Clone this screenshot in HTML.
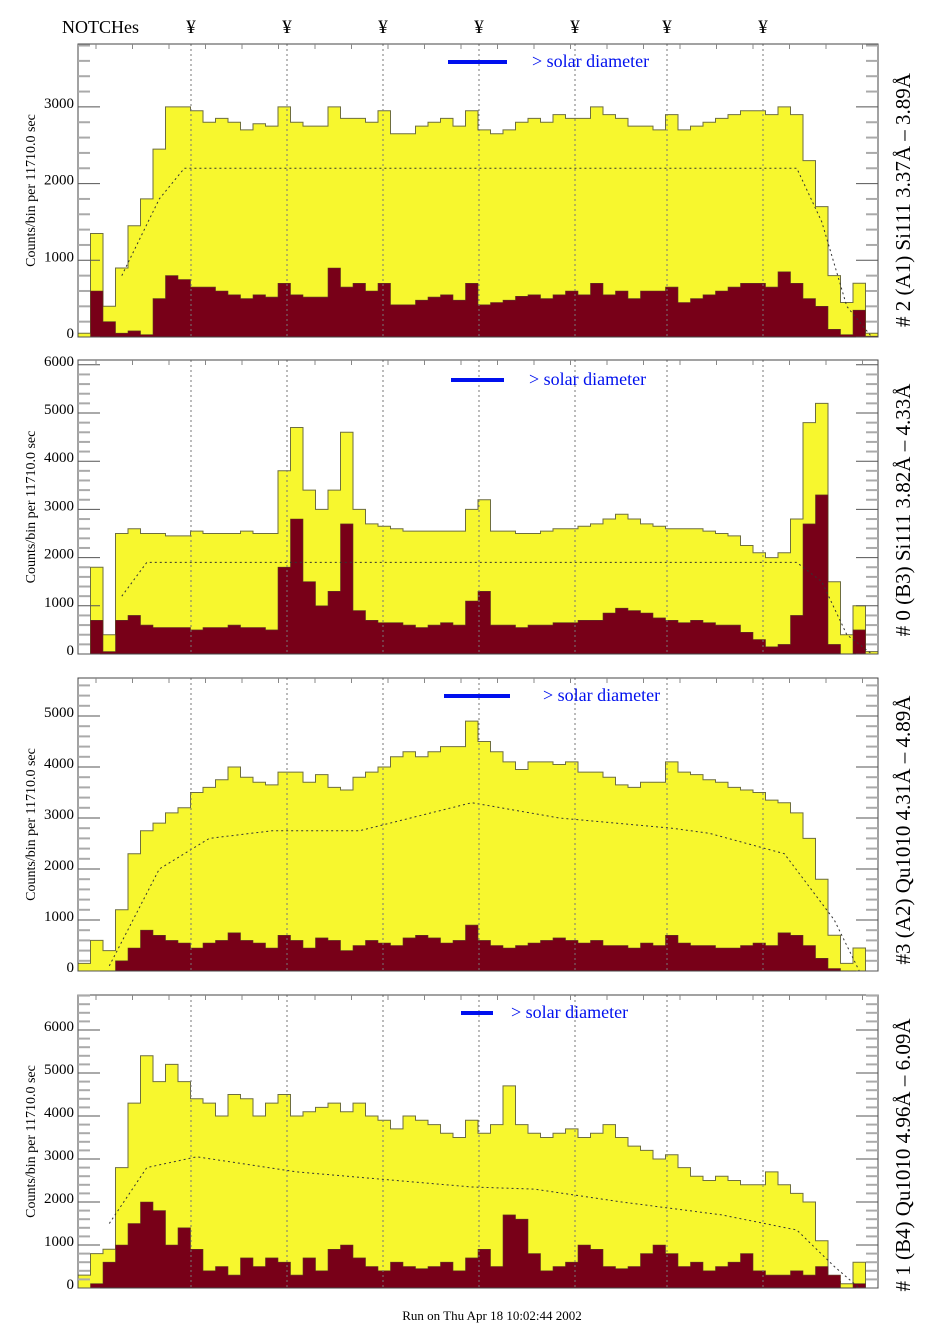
<!DOCTYPE html>
<html><head><meta charset="utf-8"><style>
html,body{margin:0;padding:0;background:#fff;}
svg{display:block;font-family:"Liberation Serif",serif;}
</style></head><body>
<svg id="chart" width="938" height="1330" viewBox="0 0 938 1330" xmlns="http://www.w3.org/2000/svg">
<text x="62" y="33" font-size="18">NOTCHes</text>
<g id="panels"></g>
<text x="492" y="1320" font-size="13" text-anchor="middle">Run on Thu Apr 18 10:02:44 2002</text>
</svg>
<script>
const notchX = [191, 287, 383, 479, 575, 667, 763];
const nBins = 64;
const yellow1 = [50,1350,400,900,1450,1800,2450,3000,3000,2950,2800,2850,2800,2700,2780,2750,3000,2800,2750,2750,3000,2850,2850,2800,2950,2650,2650,2750,2800,2850,2750,2950,2700,2650,2700,2800,2850,2800,2900,2850,2850,3000,2900,2850,2750,2750,2700,2900,2700,2750,2800,2850,2900,2950,2950,2900,3000,2900,2300,1700,800,450,700,50];
const red1 = [0,600,200,50,80,30,500,800,750,650,650,600,550,500,550,520,700,550,520,520,900,650,700,600,700,420,420,480,520,550,480,700,420,450,480,530,550,500,550,600,550,700,550,600,500,600,600,650,450,500,550,600,650,700,700,650,850,700,500,400,100,30,350,10];
const model1 = [[3,800],[6,1800],[8,2200],[57,2200],[59,1500],[61,400],[63,0]];
const yellow2 = [0,1800,400,2500,2600,2500,2500,2450,2450,2550,2500,2500,2500,2550,2500,2500,3800,4700,3400,3000,3400,4600,3000,2700,2650,2600,2550,2550,2550,2550,2550,3000,3200,2550,2550,2500,2500,2550,2600,2600,2650,2700,2800,2900,2800,2700,2650,2600,2600,2600,2550,2500,2450,2250,2100,2000,2100,2800,4800,5200,1500,400,1000,50];
const red2 = [0,700,50,700,800,600,550,550,550,500,550,550,600,550,550,500,1800,2800,1500,1000,1300,2700,900,700,650,650,600,550,600,650,600,1100,1300,600,600,550,600,600,650,650,700,700,850,950,900,850,750,700,650,700,650,600,600,450,300,150,200,800,2700,3300,200,0,500,0];
const model2 = [[3,1200],[5,1900],[57,1900],[59,1500],[61,400],[63,0]];
const yellow3 = [150,600,400,1200,2300,2750,2900,3100,3200,3500,3600,3750,4000,3800,3700,3650,3900,3900,3700,3850,3600,3550,3800,3900,4000,4200,4300,4200,4300,4400,4400,4900,4500,4300,4100,3950,4100,4100,4050,4100,3900,3900,3800,3650,3600,3700,3700,4100,3900,3850,3750,3700,3600,3550,3500,3350,3300,3100,2600,1800,700,150,450,0];
const red3 = [0,0,0,200,450,800,700,600,550,450,550,600,750,600,550,450,700,600,450,650,600,400,500,600,550,500,650,700,650,550,600,900,600,500,450,500,550,600,650,600,550,600,500,500,450,550,500,700,550,500,500,450,450,500,550,500,750,700,500,250,50,0,0,0];
const model3 = [[2,100],[6,2000],[10,2600],[15,2750],[22,2750],[31,3300],[38,3000],[47,2800],[50,2700],[56,2300],[60,1000],[62,0]];
const yellow4 = [300,800,900,2800,4300,5400,4800,5200,4800,4400,4300,4000,4500,4400,4000,4300,4500,4000,4100,4200,4300,4100,4300,4000,3900,3700,4000,3900,3800,3600,3500,3900,3600,3800,4700,3800,3600,3500,3600,3700,3500,3600,3800,3500,3300,3200,3000,3100,2800,2600,2500,2600,2500,2400,2400,2700,2400,2200,2000,1100,150,100,600,0];
const red4 = [0,100,600,1000,1500,2000,1800,1000,1400,900,400,500,300,700,500,700,600,300,700,400,900,1000,700,500,400,600,500,450,500,600,400,700,900,500,1700,1600,800,400,500,600,1000,900,500,450,500,800,1000,800,500,600,400,500,600,800,400,300,300,400,300,500,300,0,100,0];
const model4 = [[2,1500],[5,2800],[9,3050],[17,2700],[31,2350],[36,2300],[43,2000],[51,1700],[57,1350],[60,500],[62,0]];
const ticks1 = [0,1000,2000,3000];
const ticks2 = [0,1000,2000,3000,4000,5000,6000];
const ticks3 = [0,1000,2000,3000,4000,5000];
const ticks4 = [0,1000,2000,3000,4000,5000,6000];
const titles = ["# 2 (A1) Si111  3.37Å – 3.89Å","# 0 (B3) Si111  3.82Å – 4.33Å","#3 (A2) Qu1010  4.31Å – 4.89Å","# 1 (B4) Qu1010 4.96Å – 6.09Å"];

const panels = [
 {top:44,base:337,perK:76.7,yel:yellow1,red:red1,model:model1,ticks:ticks1,bar:[448,507,62],txt:532,tc:200},
 {top:360,base:654,perK:48.2,yel:yellow2,red:red2,model:model2,ticks:ticks2,bar:[451,504,380],txt:529,tc:510},
 {top:678,base:971,perK:51,yel:yellow3,red:red3,model:model3,ticks:ticks3,bar:[444,510,696],txt:543,tc:830},
 {top:995,base:1288,perK:43,yel:yellow4,red:red4,model:model4,ticks:ticks4,bar:[461,493,1013],txt:511,tc:1155}
];
const X0=78, X1=878;
const NS="http://www.w3.org/2000/svg";
const root=document.getElementById('panels');
function mk(tag,attrs,parent){const e=document.createElementNS(NS,tag);for(const k in attrs)e.setAttribute(k,attrs[k]);(parent||root).appendChild(e);return e;}
function xScale(i){return X0+(X1-X0)*i/nBins;}

notchX.forEach(function(x){
  const t=mk('text',{x:x,y:33,'font-size':19,'text-anchor':'middle'});
  
  
  t.textContent='¥';
});

panels.forEach(function(p,pi){
  const g=mk('g',{});
  
  
  const y=function(v){return p.base-v*p.perK/1000;};
  function stepPath(arr){
    let d='M'+xScale(0)+','+p.base;
    arr.forEach(function(v,i){d+=' L'+xScale(i)+','+y(v).toFixed(1)+' L'+xScale(i+1)+','+y(v).toFixed(1);});
    d+=' L'+xScale(arr.length)+','+p.base+' Z';
    return d;
  }
  const yp=mk('path',{d:stepPath(p.yel),fill:'#f7f72e',stroke:'#6e6e40','stroke-width':1},g);
  
  
  const rp=mk('path',{d:stepPath(p.red),fill:'#780018',stroke:'#5a3a20','stroke-width':0.6},g);
  
  
  let md='';
  p.model.forEach(function(pt,i){md+=(i?' L':'M')+xScale(pt[0]+0.5).toFixed(1)+','+y(pt[1]).toFixed(1);});
  const ml=mk('path',{d:md,fill:'none',stroke:'#333','stroke-width':1,'stroke-dasharray':'2,3'},g);
  
  
  notchX.forEach(function(x){
    const l=mk('line',{x1:x,x2:x,y1:p.top,y2:p.base,stroke:'#777','stroke-width':1,'stroke-dasharray':'2,3'},g);
    
    
  });
  const fr=mk('rect',{x:X0,y:p.top,width:X1-X0,height:p.base-p.top,fill:'none',stroke:'#444','stroke-width':1},g);
  
  
  const maxV=(p.base-p.top)/p.perK*1000;
  for(let v=0;v<=maxV;v+=200){
    const major=(v%1000===0);
    const len=major?22:12;
    mk('line',{x1:X0,x2:X0+len,y1:y(v),y2:y(v),stroke:major?'#555':'#aaa','stroke-width':major?1:2},g);
    mk('line',{x1:X1,x2:X1-len,y1:y(v),y2:y(v),stroke:major?'#555':'#aaa','stroke-width':major?1:2},g);
  }
  for(let x=X0+18;x<X1;x+=36.5){mk('line',{x1:x,x2:x,y1:p.top,y2:p.top+5,stroke:'#888'},g);}
  p.ticks.forEach(function(v){
    const t=mk('text',{x:74,y:y(v)+1,'font-size':15,'text-anchor':'end'},g);
    
    
    t.textContent=String(v);
  });
  const yt=mk('text',{x:0,y:0,'font-size':14,'text-anchor':'middle',transform:'translate(35,'+((p.top+p.base)/2)+') rotate(-90)'},g);
  
  
  yt.textContent='Counts/bin per  11710.0 sec';
  const bar=mk('line',{x1:p.bar[0],x2:p.bar[1],y1:p.bar[2],y2:p.bar[2],stroke:'#0010ee','stroke-width':4},g);
  
  
  const st=mk('text',{x:p.txt,y:p.bar[2]+5,'font-size':18,fill:'#0010ee'},g);
  
  
  st.textContent='> solar diameter';
  const tt=mk('text',{x:0,y:0,'font-size':21,'text-anchor':'middle',transform:'translate(910,'+p.tc+') rotate(-90)'},g);
  
  
  tt.textContent=titles[pi];
});
</script>
</body></html>
